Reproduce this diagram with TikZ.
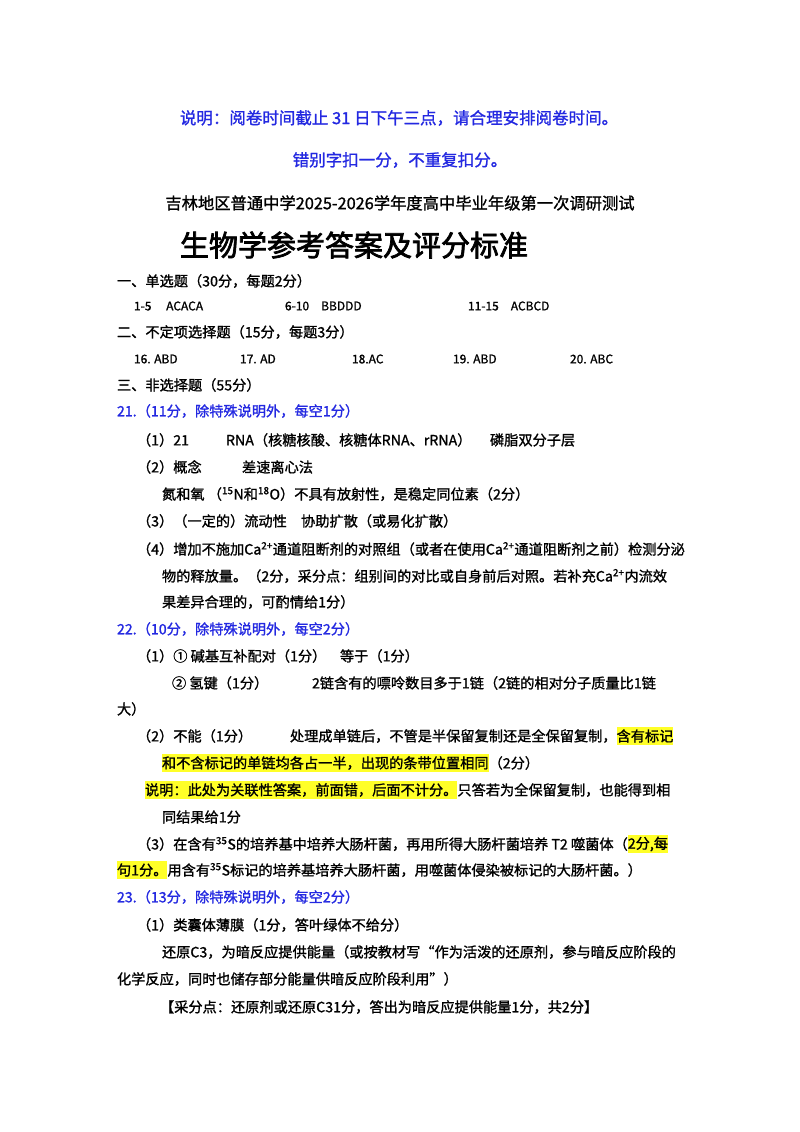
\documentclass[tikz,border=0pt]{standalone}
\usepackage{fontspec}
\setmainfont{Noto Sans CJK SC}[FakeBold=1.2]
\newfontfamily\titlefont{Noto Sans CJK SC}[FakeBold=2.5]
\definecolor{hdblue}{RGB}{35,40,225}
\definecolor{hl}{RGB}{255,255,40}
\begin{document}
\begin{tikzpicture}[x=1pt,y=-1pt,
  t/.style={anchor=west,inner sep=0pt,outer sep=0pt,font=\fontsize{14.2}{16}\selectfont},
  bl/.style={t,text=hdblue},
  hi/.style={t,fill=hl,inner ysep=2pt},
  sm/.style={t,font=\fontsize{12}{14}\selectfont}]
\useasboundingbox[fill=white] (0,0) rectangle (800,1132);
\node[anchor=center,inner sep=0,text=hdblue,font=\fontsize{16.5}{18}\selectfont] (n1) at (399,118) {说明：阅卷时间截止 31 日下午三点，请合理安排阅卷时间。};
\node[anchor=center,inner sep=0,text=hdblue,font=\fontsize{16.5}{18}\selectfont] (n2) at (400,160) {错别字扣一分，不重复扣分。};
\node[anchor=center,inner sep=0,font=\fontsize{16.3}{18}\selectfont] (n3) at (400,203) {吉林地区普通中学2025-2026学年度高中毕业年级第一次调研测试};
\node[anchor=center,inner sep=0,font=\titlefont\fontsize{29}{32}\selectfont] (n4) at (354,245) {生物学参考答案及评分标准};
\node[t] (s1) at (117,281) {一、单选题（30分，每题2分）};
\node[sm] (a1) at (134,306) {1-5\quad\ ACACA};
\node[sm] (a2) at (285,306) {6-10\quad BBDDD};
\node[sm] (a3) at (468,306) {11-15\quad ACBCD};
\node[t] (s2) at (117,332) {二、不定项选择题（15分，每题3分）};
\node[sm] (b1) at (134,359) {16. ABD};
\node[sm] (b2) at (240,359) {17. AD};
\node[sm] (b3) at (352,359) {18.AC};
\node[sm] (b4) at (453,359) {19. ABD};
\node[sm] (b5) at (570,359) {20. ABC};
\node[t] (s3) at (117,385) {三、非选择题（55分）};
\node[bl] (q21) at (117,411) {21.（11分，除特殊说明外，每空1分）};
\node[t] (l1a) at (137,440) {（1）21};
\node[t] (l1b) at (226,440) {RNA（核糖核酸、核糖体RNA、rRNA）};
\node[t] (l1c) at (490,440) {磷脂双分子层};
\node[t] (l2a) at (137,467) {（2）概念};
\node[t] (l2b) at (242,467) {差速离心法};
\node[t] (l3) at (162,494) {氮和氧 （\textsuperscript{15}N和\textsuperscript{18}O）不具有放射性，是稳定同位素（2分）};
\node[t] (l4) at (137,521) {（3）（一定的）流动性\quad 协助扩散（或易化扩散）};
\node[t] (l5) at (137,549) {（4）增加不施加Ca\textsuperscript{2+}通道阻断剂的对照组（或者在使用Ca\textsuperscript{2+}通道阻断剂之前）检测分泌};
\node[t] (l6) at (162,576) {物的释放量。（2分，采分点：组别间的对比或自身前后对照。若补充Ca\textsuperscript{2+}内流效};
\node[t] (l7) at (162,602) {果差异合理的，可酌情给1分）};
\node[bl] (q22) at (117,629) {22.（10分，除特殊说明外，每空2分）};
\node[t] (m1a) at (137,656) {（1）① 碱基互补配对（1分）};
\node[t] (m1b) at (340,656) {等于（1分）};
\node[t] (m2a) at (172,683) {② 氢键（1分）};
\node[t] (m2b) at (312,683) {2链含有的嘌呤数目多于1链（2链的相对分子质量比1链};
\node[t] (m3) at (117,709) {大）};
\node[t] (m4a) at (137,736) {（2）不能（1分）};
\node[t] (m4b) at (290,736) {处理成单链后，不管是半保留复制还是全保留复制，};
\node[hi,anchor=west] (m4c) at (m4b.east) {含有标记};
\node[hi] (m5a) at (162,763) {和不含标记的单链均各占一半，出现的条带位置相同};
\node[t,anchor=west] (m5b) at (m5a.east) {（2分）};
\node[hi] (m6a) at (145,790) {说明：此处为关联性答案，前面错，后面不计分。};
\node[t,anchor=west] (m6b) at (m6a.east) {只答若为全保留复制，也能得到相};
\node[t] (m7) at (162,817) {同结果给1分};
\node[t] (m8a) at (137,844) {（3）在含有\textsuperscript{35}S的培养基中培养大肠杆菌，再用所得大肠杆菌培养 T2 噬菌体（};
\node[hi,anchor=west] (m8b) at (m8a.east) {2分,每};
\node[hi] (m9a) at (117,870) {句1分。};
\node[t,anchor=west] (m9b) at (m9a.east) {用含有\textsuperscript{35}S标记的培养基培养大肠杆菌，用噬菌体侵染被标记的大肠杆菌。）};
\node[bl] (q23) at (117,897) {23.（13分，除特殊说明外，每空2分）};
\node[t] (p1) at (137,925) {（1）类囊体薄膜（1分，答叶绿体不给分）};
\node[t] (p2) at (162,952) {还原C3，为暗反应提供能量（或按教材写“作为活泼的还原剂，参与暗反应阶段的};
\node[t] (p3) at (117,979) {化学反应，同时也储存部分能量供暗反应阶段利用”）};
\node[t] (p4) at (160,1007) {【采分点：还原剂或还原C31分，答出为暗反应提供能量1分，共2分】};
\end{tikzpicture}
\end{document}
